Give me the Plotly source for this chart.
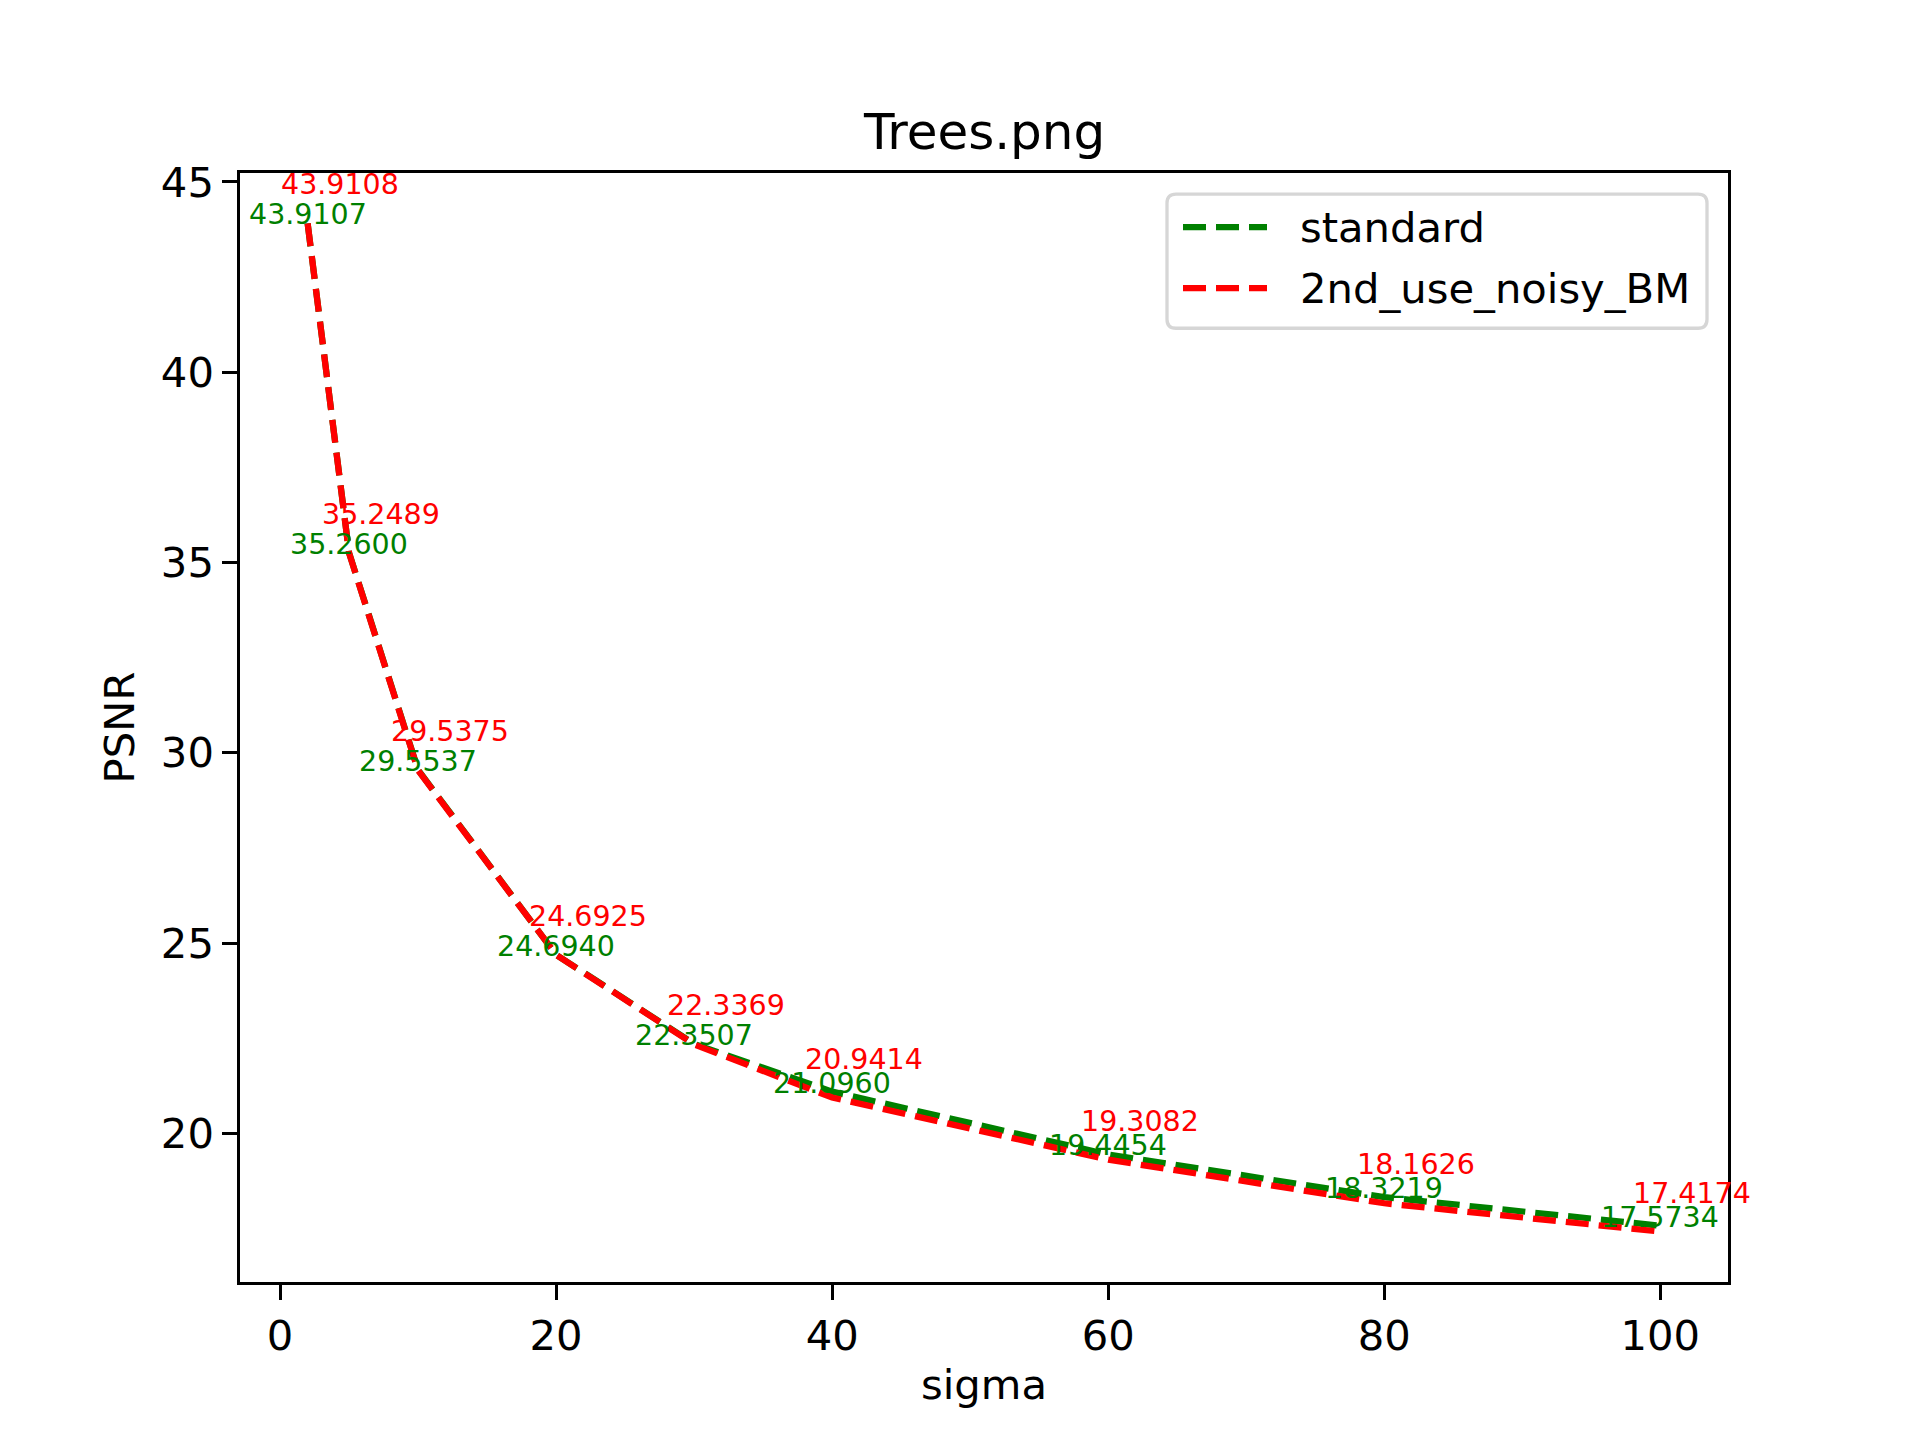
import plotly.graph_objects as go

sigma = [2, 5, 10, 20, 30, 40, 60, 80, 100]
psnr_standard = [43.9107, 35.2600, 29.5537, 24.6940, 22.3507, 21.0960, 19.4454, 18.3219, 17.5734]
psnr_noisy_bm = [43.9108, 35.2489, 29.5375, 24.6925, 22.3369, 20.9414, 19.3082, 18.1626, 17.4174]
series_names = ["standard", "2nd_use_noisy_BM"]
series_colors = ["green", "red"]

# page has an 8px body margin, so the figure is shrunk by that much
OFF = 8
W, H = 1920 - OFF, 1440 - OFF
FONT = "DejaVu Sans"
dash = "23px,10px"
lw = 6.25

fig = go.Figure()
for name, ys, col in zip(series_names, [psnr_standard, psnr_noisy_bm], series_colors):
    fig.add_trace(go.Scatter(x=sigma, y=ys, mode="lines", name=name,
                             line=dict(color=col, width=lw, dash=dash),
                             showlegend=False))

# value labels
for x, y in zip(sigma, psnr_standard):
    fig.add_annotation(x=x, y=y, text="%.4f" % y, showarrow=False,
                       xanchor="center", yanchor="bottom", yshift=-10,
                       font=dict(family=FONT, size=28.5, color="green"))
for x, y in zip(sigma, psnr_noisy_bm):
    fig.add_annotation(x=x, y=y, text="%.4f" % y, showarrow=False,
                       xanchor="center", yanchor="bottom", xshift=32, yshift=20,
                       font=dict(family=FONT, size=28.5, color="red"))

# plot area in page pixels: x 240..1728, y 172.8..1281.6
def px(xp):
    return (xp - 240) / (1728 - 240)

def py(yp):
    return (1281.6 - yp) / (1281.6 - 172.8)

# legend drawn by hand (matplotlib look, rounded box)
bl, br, bt, bb = 1167, 1707, 194, 328
r = 9
rx, ry = r / 1488, r / 1108.8
X0, X1, Yt, Yb = px(bl), px(br), py(bt), py(bb)
path = (f"M {X0 + rx},{Yb} L {X1 - rx},{Yb} Q {X1},{Yb} {X1},{Yb + ry} "
        f"L {X1},{Yt - ry} Q {X1},{Yt} {X1 - rx},{Yt} "
        f"L {X0 + rx},{Yt} Q {X0},{Yt} {X0},{Yt - ry} "
        f"L {X0},{Yb + ry} Q {X0},{Yb} {X0 + rx},{Yb} Z")
fig.add_shape(type="path", xref="paper", yref="paper", path=path,
              line=dict(color="#d6d6d6", width=3.3), fillcolor="rgba(255,255,255,0.8)")
for i, (name, col) in enumerate(zip(series_names, series_colors)):
    yy = 227 + i * 61
    fig.add_shape(type="line", xref="paper", yref="paper",
                  x0=px(1183), x1=px(1267), y0=py(yy), y1=py(yy),
                  line=dict(color=col, width=lw, dash=dash))
    fig.add_annotation(xref="paper", yref="paper", x=px(1298), y=py(yy),
                       text=name, showarrow=False, xanchor="left", yanchor="middle",
                       yshift=0, font=dict(family=FONT, size=41.7, color="black"))

fig.add_annotation(xref="paper", yref="paper", x=0.5, y=1, text="Trees.png",
                   showarrow=False, xanchor="center", yanchor="bottom", yshift=10,
                   font=dict(family=FONT, size=50, color="black"))

axis_common = dict(showline=True, mirror=True, linecolor="black", linewidth=3.3,
                   ticks="outside", ticklen=14.6, tickwidth=3.3, tickcolor="black",
                   showgrid=False, zeroline=False,
                   tickfont=dict(family=FONT, size=41.7, color="black"))

fig.update_layout(
    width=W, height=H,
    margin=dict(l=240 - OFF, r=192, t=172.8 - OFF, b=158.4, autoexpand=False),
    paper_bgcolor="white", plot_bgcolor="white",
    font=dict(family=FONT, color="black"),
    xaxis=dict(range=[-2.9, 104.9], tickvals=[0, 20, 40, 60, 80, 100],
               title=dict(text="sigma", font=dict(family=FONT, size=41.7), standoff=12),
               **axis_common),
    yaxis=dict(range=[16.0935, 45.2355], tickvals=[20, 25, 30, 35, 40, 45],
               title=dict(text="PSNR", font=dict(family=FONT, size=41.7), standoff=14),
               **axis_common),
)

fig.write_html("out.html")
